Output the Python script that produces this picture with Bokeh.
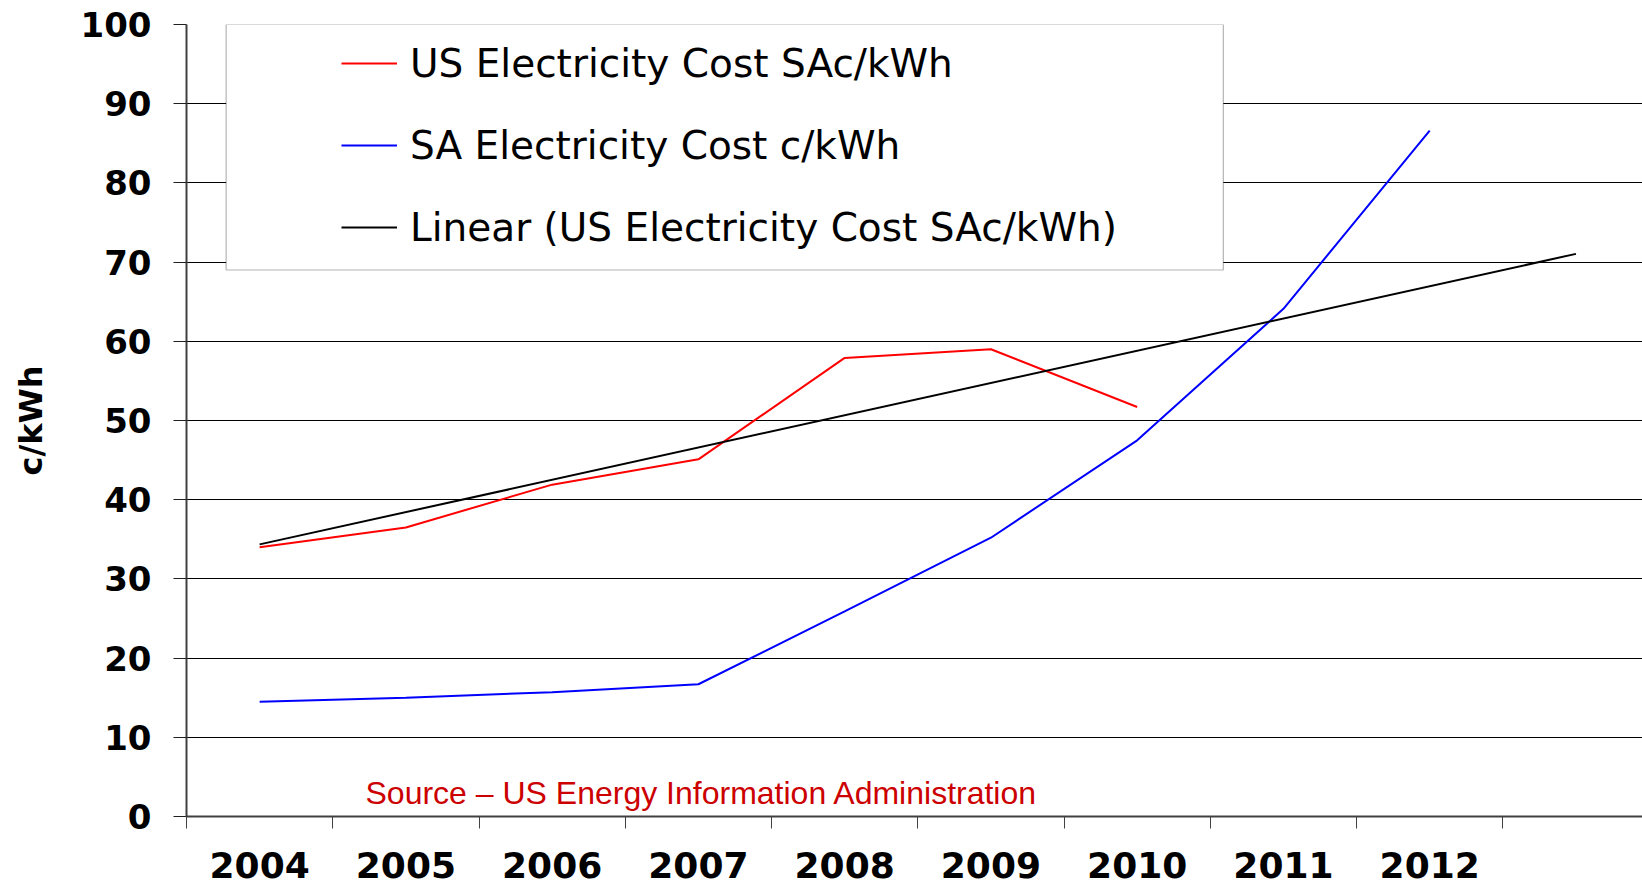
import numpy as np
from bokeh.plotting import figure
from bokeh.models import (FixedTicker, Legend, LegendItem, BoxAnnotation, Label, Range1d)
from bokeh.embed import file_html
from bokeh.resources import INLINE

# ---- data ----
years = ["2004", "2005", "2006", "2007", "2008", "2009", "2010", "2011", "2012"]
us_cost = [34.0, 36.5, 41.9, 45.1, 57.9, 59.0, 51.7]          # US Electricity Cost SAc/kWh
sa_cost = [14.5, 15.0, 15.7, 16.7, 25.9, 35.2, 47.5, 64.1, 86.6]  # SA Electricity Cost c/kWh
y_ticks = [0, 10, 20, 30, 40, 50, 60, 70, 80, 90, 100]
legend_labels = ["US Electricity Cost SAc/kWh",
                 "SA Electricity Cost c/kWh",
                 "Linear (US Electricity Cost SAc/kWh)"]
source_text = "Source \u2013 US Energy Information Administration"
y_label = "c/kWh"

n_cat = 10  # nine labelled years plus one forecast slot for the trend line
us_x = [i + 0.5 for i in range(len(us_cost))]
sa_x = [i + 0.5 for i in range(len(sa_cost))]
slope, intercept = np.polyfit(np.arange(len(us_cost)), us_cost, 1)
trend_x = [0.5, n_cat - 0.5]
trend_y = [intercept + slope * (x - 0.5) for x in trend_x]

W, H = 1642, 887
p = figure(width=W, height=H, output_backend="svg", toolbar_location=None,
           x_range=Range1d(0, 9.955), y_range=Range1d(0, 100),
           min_border_left=186, min_border_right=0, min_border_top=24, min_border_bottom=71)
p.outline_line_color = None
p.background_fill_color = "white"

r_us = p.line(us_x, us_cost, line_color="#FF0000", line_width=2)
r_sa = p.line(sa_x, sa_cost, line_color="#0000FF", line_width=2)
r_tr = p.line(trend_x, trend_y, line_color="#000000", line_width=2)

# x axis
xa = p.xaxis[0]
xa.ticker = FixedTicker(ticks=[i + 0.5 for i in range(len(years))],
                        minor_ticks=list(range(n_cat)))
xa.major_label_overrides = {i + 0.5: y for i, y in enumerate(years)}
xa.major_tick_out = 0
xa.major_tick_in = 0
xa.minor_tick_out = 12
xa.minor_tick_in = 0
xa.minor_tick_line_color = "#404040"
xa.axis_line_color = "#404040"
xa.axis_line_width = 2
xa.major_label_text_font = "DejaVu Sans"
xa.major_label_text_font_style = "bold"
xa.major_label_text_font_size = "36px"
xa.major_label_text_color = "black"
xa.major_label_standoff = 23
p.xgrid.visible = False

# y axis
ya = p.yaxis[0]
ya.ticker = FixedTicker(ticks=y_ticks)
ya.minor_tick_line_color = None
ya.major_tick_out = 13
ya.major_tick_in = 0
ya.major_tick_line_color = "#202020"
ya.axis_line_color = "#404040"
ya.axis_line_width = 2
ya.major_label_text_font = "DejaVu Sans"
ya.major_label_text_font_style = "bold"
ya.major_label_text_font_size = "34px"
ya.major_label_text_color = "black"
ya.major_label_standoff = 22
ya.axis_label = y_label
ya.axis_label_text_font = "DejaVu Sans"
ya.axis_label_text_font_style = "bold"
ya.axis_label_text_font_size = "32px"
ya.axis_label_text_color = "black"
ya.axis_label_standoff = 28

p.ygrid.ticker = FixedTicker(ticks=y_ticks[1:])
p.ygrid.grid_line_color = "#000000"
p.ygrid.grid_line_width = 1

# legend box
box = BoxAnnotation(left=0.271, right=7.089, top=100, bottom=69.0,
                    fill_color="white", fill_alpha=1.0,
                    line_color="#000000", line_width=1.2)
p.add_layout(box)

legend = Legend(items=[LegendItem(label=legend_labels[0], renderers=[r_us]),
                       LegendItem(label=legend_labels[1], renderers=[r_sa]),
                       LegendItem(label=legend_labels[2], renderers=[r_tr])],
                location=(155, 566), padding=0, margin=0, spacing=36,
                glyph_width=56, glyph_height=46, label_height=46, label_standoff=13,
                label_text_font="DejaVu Sans", label_text_font_size="39px",
                label_text_color="black",
                border_line_alpha=0, background_fill_alpha=0)
p.add_layout(legend)

src = Label(x=1.224, y=3.0, text=source_text, text_font="Liberation Sans",
            text_font_size="32px", text_color="#CC0000", text_baseline="middle")
p.add_layout(src)

open("out.html", "w").write(file_html(p, INLINE))
